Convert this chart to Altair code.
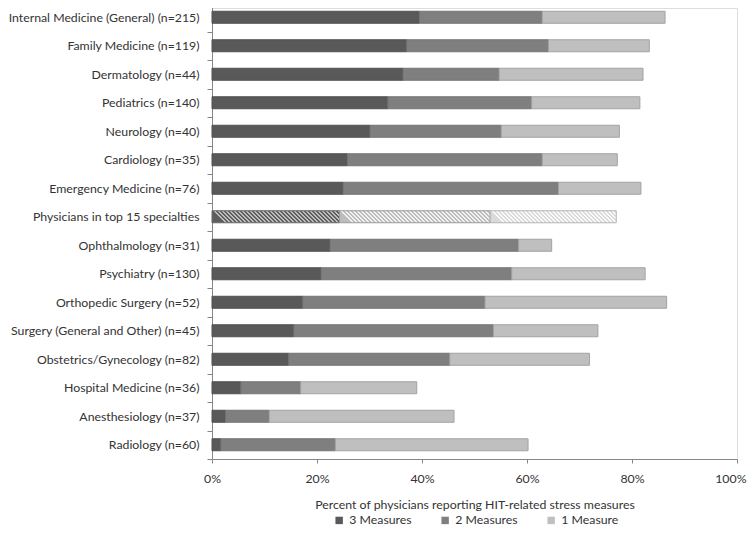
import altair as alt
import pandas as pd

specialties = [
    "Internal Medicine (General) (n=215)", "Family Medicine (n=119)", "Dermatology (n=44)",
    "Pediatrics (n=140)", "Neurology (n=40)", "Cardiology (n=35)", "Emergency Medicine (n=76)",
    "Physicians in top 15 specialties", "Ophthalmology (n=31)", "Psychiatry (n=130)",
    "Orthopedic Surgery (n=52)", "Surgery (General and Other) (n=45)",
    "Obstetrics/Gynecology (n=82)", "Hospital Medicine (n=36)", "Anesthesiology (n=37)",
    "Radiology (n=60)",
]
three_measures = [39.5, 37.1, 36.4, 33.5, 30.1, 25.8, 25.0, 24.3, 22.5, 20.8, 17.3, 15.6, 14.6, 5.5, 2.6, 1.7]
two_measures = [23.4, 27.0, 18.3, 27.4, 25.0, 37.1, 41.0, 28.7, 35.9, 36.3, 34.7, 38.0, 30.7, 11.4, 8.3, 21.8]
one_measure = [23.4, 19.2, 27.4, 20.6, 22.5, 14.3, 15.7, 24.0, 6.3, 25.4, 34.6, 19.9, 26.6, 22.1, 35.2, 36.7]
measures = ["3 Measures", "2 Measures", "1 Measure"]
x_ticks = [0, 20, 40, 60, 80, 100]
summary_row = "Physicians in top 15 specialties"

FONT = "Lato"
FS = 12.3
PLOT_W = 525
PLOT_H = 451
BAR_H = 12

rows = []
for i, sp in enumerate(specialties):
    start = 0.0
    for j, (m, v) in enumerate(zip(measures, [three_measures[i], two_measures[i], one_measure[i]])):
        rows.append({"specialty": sp, "measure": m, "order": j, "value": v,
                     "start": start, "end": start + v})
        start += v
df = pd.DataFrame(rows)
main_df = df[df["specialty"] != summary_row]
hatch_df = df[df["specialty"] == summary_row]

fills = ["#595959", "#7f7f7f", "#bfbfbf"]
strokes = ["#505050", "#747474", "#a3a3a3"]
TEXT = "#333333"

y_enc = alt.Y("specialty:N", sort=specialties,
              scale=alt.Scale(domain=specialties, range=[-5, PLOT_H], paddingInner=0, paddingOuter=0),
              axis=alt.Axis(title=None, tickBand="extent", tickSize=5, labelPadding=8,
                            domainColor="#868686", tickColor="#868686", labelFontSize=FS,
                            labelFont=FONT, labelColor=TEXT, labelLimit=300))
x_enc = alt.X("start:Q", scale=alt.Scale(domain=[0, 100], nice=False),
              axis=alt.Axis(title="Percent of physicians reporting HIT-related stress measures",
                            values=x_ticks, labelExpr="datum.value + '%'", grid=False,
                            labelFlush=False,
                            labelAlign={"condition": {"test": "datum.value == 100", "value": "right"},
                                        "value": "center"},
                            labelOffset={"condition": {"test": "datum.value == 100", "value": 9},
                                         "value": 0},
                            domainColor="#868686", tickColor="#868686", tickSize=4,
                            labelPadding=9, labelFontSize=FS, labelFont=FONT,
                            labelColor=TEXT, titleFont=FONT, titleFontSize=FS,
                            titleFontWeight="normal", titleColor=TEXT, titlePadding=14))

main = alt.Chart(main_df).mark_bar(size=BAR_H, strokeWidth=1).encode(
    y=y_enc,
    x=x_enc,
    x2="end:Q",
    fill=alt.Fill("measure:N", scale=alt.Scale(domain=measures, range=fills),
                  legend=alt.Legend(title=None, orient="none", direction="horizontal",
                                    legendX=121, legendY=506, symbolType="square",
                                    symbolSize=55, symbolStrokeWidth=0, columnPadding=27,
                                    labelFont=FONT, labelFontSize=FS, labelColor=TEXT,
                                    labelOffset=4)),
    stroke=alt.Stroke("measure:N", scale=alt.Scale(domain=measures, range=strokes), legend=None),
)


def stripes(width_px, height_px, period, duty, c1, c2):
    r = height_px / width_px
    per = period / width_px / (1 + r * r)
    stops = []
    k = 0
    while k * per < 1:
        a = k * per
        b = min(a + per * duty, 1.0)
        c = min(a + per, 1.0)
        stops += [{"offset": round(a, 5), "color": c1}, {"offset": round(b, 5), "color": c1},
                  {"offset": round(b, 5), "color": c2}, {"offset": round(c, 5), "color": c2}]
        k += 1
    return {"gradient": "linear", "x1": 0, "y1": r, "x2": 1, "y2": 0, "stops": stops}


hatch_styles = [
    (4.0, 0.55, "#5e5e5e", "#bdbdbd", "#666666"),
    (4.0, 0.5, "#bdbdbd", "#f2f2f2", "#9a9a9a"),
    (4.0, 0.45, "#dadada", "#fbfbfb", "#b5b5b5"),
]
hatch_layers = []
for j, m in enumerate(measures):
    seg = hatch_df[hatch_df["measure"] == m]
    w = float(seg["value"].iloc[0]) * PLOT_W / 100.0
    period, duty, c1, c2, sc = hatch_styles[j]
    hatch_layers.append(
        alt.Chart(seg).mark_bar(size=BAR_H, strokeWidth=1).encode(
            y=y_enc, x=x_enc, x2="end:Q",
            fill=alt.value(stripes(w, BAR_H, period, duty, c1, c2)),
            stroke=alt.value(sc),
        )
    )

chart = alt.layer(main, *hatch_layers).properties(
    width=PLOT_W, height=PLOT_H,
    autosize=alt.AutoSizeParams(type="none"),
    padding={"left": 204, "top": 0, "right": 10, "bottom": 69},
).configure_view(stroke=None).configure(background="white")

chart.save("out.html", embed_options={"renderer": "svg", "actions": False})
